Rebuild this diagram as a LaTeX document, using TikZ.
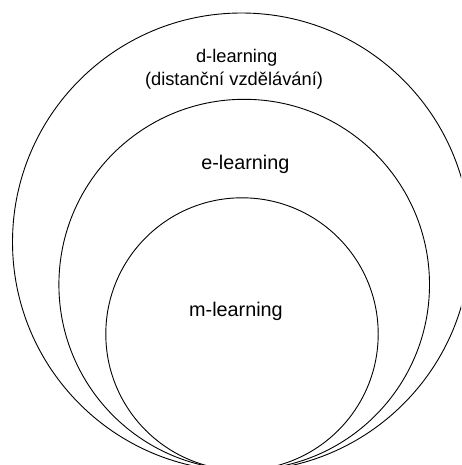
\documentclass[tikz,border=0pt]{standalone}
\usepackage{fontspec}
\setmainfont{Liberation Sans}
\begin{document}
\begin{tikzpicture}[x=1pt,y=-1pt,
  ring/.style={draw=black, line width=0.9pt, circle, inner sep=0pt},
  lblsmall/.style={anchor=base, inner sep=0pt, font=\fontsize{18.3}{22}\selectfont},
  lblbig/.style={anchor=base, inner sep=0pt, font=\fontsize{19.8}{24}\selectfont}]
\useasboundingbox (0,0) rectangle (461,465);
\clip (0,0) rectangle (461,465);
\node[ring, minimum size=458pt] (outer) at (241.5,242) {};
\node[ring, minimum size=370.6pt] (middle) at (244.2,284.6) {};
\node[ring, minimum size=272.4pt] (inner) at (242,334) {};
\node[lblsmall] (d1) at (236.7,62.7) {d-learning};
\node[lblsmall] (d2) at (234,85.5) {(distanční vzdělávání)};
\node[lblbig] (e) at (245.3,169.4) {e-learning};
\node[lblbig] (m) at (236,316) {m-learning};
\end{tikzpicture}
\end{document}
